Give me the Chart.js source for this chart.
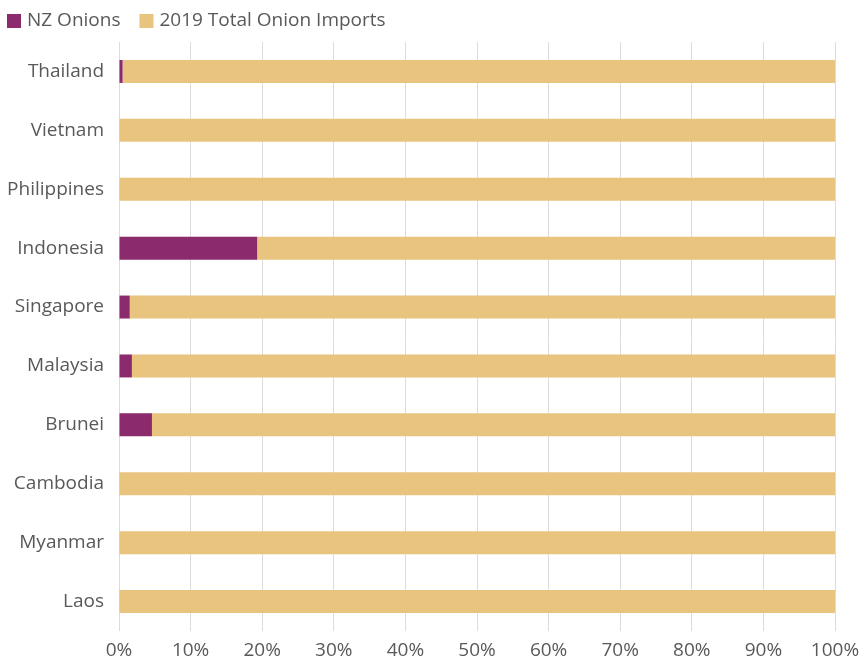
<!DOCTYPE html>
<html>
<head>
<meta charset="utf-8">
<script src="https://cdn.jsdelivr.net/npm/chart.js@4"></script>
<style>
  body { margin: 0; background: #fff; }
  #wrap { width: 861px; height: 658px; }
</style>
</head>
<body>
<div id="wrap"><canvas id="grafico"></canvas></div>
<script>
// Datos (porcentajes)
const paises = ['Thailand', 'Vietnam', 'Philippines', 'Indonesia', 'Singapore', 'Malaysia', 'Brunei', 'Cambodia', 'Myanmar', 'Laos'];
const nzOnions = [0.5, 0, 0, 19.3, 1.5, 1.8, 4.6, 0, 0, 0];
const totalImports = [99.5, 100, 100, 80.7, 98.5, 98.2, 95.4, 100, 100, 100];
const ticksX = [0, 10, 20, 30, 40, 50, 60, 70, 80, 90, 100];

const colorTexto = '#595959';
const fuente = '"Open Sans", sans-serif';
Chart.defaults.font.family = fuente;
Chart.defaults.font.size = 19;
Chart.defaults.color = colorTexto;

// Leyenda dibujada a mano para colocarla como en el original
const leyendaManual = {
    id: 'leyendaManual',
    afterDraw(chart) {
        const c = chart.ctx;
        c.save();
        c.font = '19px ' + fuente;
        c.textBaseline = 'middle';
        let x = 7;
        chart.data.datasets.forEach(ds => {
            c.fillStyle = ds.backgroundColor;
            c.fillRect(x, 14, 14, 14);
            c.fillStyle = colorTexto;
            c.fillText(ds.label, x + 20, 21);
            x += 20 + c.measureText(ds.label).width + 19;
        });
        c.restore();
    }
};

const ctx = document.getElementById('grafico').getContext('2d');
new Chart(ctx, {
    type: 'bar',
    data: {
        labels: paises,
        datasets: [{
            label: 'NZ Onions',
            data: nzOnions,
            backgroundColor: '#8b2a6c',
            barPercentage: 0.78,
            categoryPercentage: 0.5
        }, {
            label: '2019 Total Onion Imports',
            data: totalImports,
            backgroundColor: '#e8c47e',
            barPercentage: 0.78,
            categoryPercentage: 0.5
        }]
    },
    options: {
        indexAxis: 'y',
        responsive: true,
        maintainAspectRatio: false,
        animation: false,
        layout: { padding: { left: 0, right: 0, top: 42, bottom: 0 } },
        plugins: {
            legend: { display: false },
            tooltip: { enabled: false }
        },
        scales: {
            x: {
                stacked: true,
                min: 0,
                max: 100,
                afterBuildTicks: axis => { axis.ticks = ticksX.map(v => ({ value: v })); },
                afterFit: axis => { axis.height = 27; axis.paddingRight = 26; },
                ticks: { callback: v => v + '%', padding: 8, maxRotation: 0 },
                grid: { color: '#dcdcdc', drawTicks: false },
                border: { display: false }
            },
            y: {
                stacked: true,
                afterFit: axis => { axis.width = 119; },
                ticks: { padding: 15 },
                grid: { display: false, drawTicks: false },
                border: { display: false }
            }
        }
    },
    plugins: [leyendaManual]
});
</script>
</body>
</html>
